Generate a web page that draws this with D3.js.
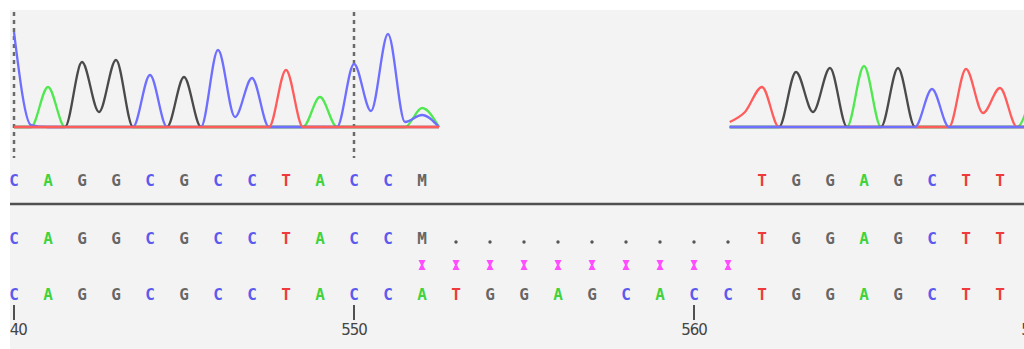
<!DOCTYPE html>
<html>
<head>
<meta charset="utf-8">
<script src="https://cdn.jsdelivr.net/npm/d3@7"></script>
<style>
  html, body { margin: 0; padding: 0; background: #ffffff; }
  svg { display: block; }
</style>
</head>
<body>
<div id="trace"></div>
<script>
// reference numbering starts here, one letter per base
const refStart = 540;
const refSeq    = ["C","A","G","G","C","G","C","C","T","A","C","C","A","T","G","G","A","G","C","A","C","C","T","G","G","A","G","C","T","T"];
const querySeq  = ["C","A","G","G","C","G","C","C","T","A","C","C","M",".",".",".",".",".",".",".",".",".","T","G","G","A","G","C","T","T"];
const calledSeq = ["C","A","G","G","C","G","C","C","T","A","C","C","M","","","","","","","","","","T","G","G","A","G","C","T","T"];
const mismatchPos = [552, 553, 554, 555, 556, 557, 558, 559, 560, 561];
const tickPos = [540, 550, 560, 570];
const gridPos = [540, 550];

// trace samples, every half base (intensity)
const seg1Pos = [540, 540.5, 541, 541.5, 542, 542.5, 543, 543.5, 544, 544.5, 545, 545.5, 546, 546.5, 547, 547.5, 548, 548.5, 549, 549.5, 550, 550.5, 551, 551.5, 552, 552.5];
const seg1A = [0, 0, 40, 0, 0, 0, 0, 0, 0, 0, 0, 0, 0, 0, 0, 0, 0, 0, 30, 0, 0, 0, 0, 0, 19, 0];
const seg1C = [95, 2, 0, 0, 0, 0, 0, 0, 52, 0, 0, 0, 77, 10, 49, 0, 0, 0, 0, 0, 63, 16, 93, 5, 12, 0];
const seg1G = [0, 0, 0, 0, 65, 15, 67, 0, 0, 0, 50, 0, 0, 0, 0, 0, 0, 0, 0, 0, 0, 0, 0, 0, 0, 0];
const seg1T = [0, 0, 0, 0, 0, 0, 0, 0, 0, 0, 0, 0, 0, 0, 0, 0, 57, 0, 0, 0, 0, 0, 0, 0, 0, 0];

const seg2Pos = [561.05, 561.5, 562, 562.5, 563, 563.5, 564, 564.5, 565, 565.5, 566, 566.5, 567, 567.5, 568, 568.5, 569, 569.5, 570];
const seg2A = [0, 0, 0, 0, 0, 0, 0, 0, 61, 0, 0, 0, 0, 0, 0, 0, 0, 0, 45];
const seg2C = [0, 0, 0, 0, 0, 0, 0, 0, 0, 0, 0, 0, 38, 0, 0, 0, 0, 0, 0];
const seg2G = [0, 0, 0, 0, 55, 15, 59, 0, 0, 0, 59, 0, 0, 0, 0, 0, 0, 0, 0];
const seg2T = [5, 15, 40, 0, 0, 0, 0, 0, 0, 0, 0, 0, 0, 0, 58, 14, 39, 0, 0];

const width = 1024;
const height = 349;
const baseY = 127;

const traceColor = { A: "#4fe84f", C: "#6e6eff", G: "#4a4a4a", T: "#ff5c5c" };
const letterColor = { A: "#3fd43f", C: "#5a5aee", G: "#666666", T: "#ee3a3a", M: "#666666" };

const svg = d3.select("#trace").append("svg")
    .attr("width", width)
    .attr("height", height);

svg.append("rect")
    .attr("x", 0).attr("y", 0)
    .attr("width", width).attr("height", height)
    .attr("fill", "#ffffff");

svg.append("defs").append("clipPath").attr("id", "panel")
    .append("rect")
    .attr("x", 10).attr("y", 10)
    .attr("width", width - 10).attr("height", height - 10);

const g = svg.append("g").attr("clip-path", "url(#panel)");

g.append("rect")
    .attr("x", 10).attr("y", 10)
    .attr("width", width - 10).attr("height", height - 10)
    .attr("fill", "#f3f3f3");

const x = d3.scaleLinear()
    .domain([refStart, refStart + 30])
    .range([14, 1034]);

const y = d3.scaleLinear()
    .domain([0, 100])
    .range([baseY, baseY - 100]);

// dotted guides every 10 bases where there is trace
g.append("g")
    .selectAll("line")
    .data(gridPos)
    .join("line")
    .attr("x1", d => x(d)).attr("x2", d => x(d))
    .attr("y1", 12).attr("y2", 158)
    .attr("stroke", "#6a6a6a")
    .attr("stroke-width", 2.5)
    .attr("stroke-dasharray", "4 4");

const line = d3.line()
    .x(d => x(d[0]))
    .y(d => y(d[1]))
    .curve(d3.curveMonotoneX);

function drawSegment(pos, channels) {
    const grp = g.append("g")
        .attr("fill", "none")
        .attr("stroke-width", 2.3)
        .attr("stroke-linejoin", "round");
    channels.forEach(([base, vals]) => {
        grp.append("path")
            .attr("stroke", traceColor[base])
            .attr("d", line(pos.map((p, i) => [p, vals[i]])));
    });
}

// draw order differs: red ends on top in the first block, blue in the second
drawSegment(seg1Pos, [["A", seg1A], ["G", seg1G], ["C", seg1C], ["T", seg1T]]);
drawSegment(seg2Pos, [["A", seg2A], ["G", seg2G], ["T", seg2T], ["C", seg2C]]);

function drawLetters(seq, yPos) {
    g.append("g")
        .selectAll("text")
        .data(seq.map((b, i) => ({ b: b, p: refStart + i })).filter(d => d.b !== "" && d.b !== "."))
        .join("text")
        .attr("x", d => x(d.p))
        .attr("y", yPos)
        .attr("text-anchor", "middle")
        .attr("dominant-baseline", "central")
        .attr("font-family", "DejaVu Sans Mono, monospace")
        .attr("font-weight", "bold")
        .attr("font-size", 16)
        .attr("fill", d => letterColor[d.b])
        .text(d => d.b);
}

drawLetters(calledSeq, 180);

g.append("line")
    .attr("x1", 10).attr("x2", width)
    .attr("y1", 204).attr("y2", 204)
    .attr("stroke", "#505050")
    .attr("stroke-width", 2.5);

drawLetters(querySeq, 238);

// gap dots in the query row
g.append("g")
    .selectAll("circle")
    .data(querySeq.map((b, i) => ({ b: b, p: refStart + i })).filter(d => d.b === "."))
    .join("circle")
    .attr("cx", d => x(d.p))
    .attr("cy", 242)
    .attr("r", 1.7)
    .attr("fill", "#555555");

// mismatch markers
g.append("g")
    .selectAll("path")
    .data(mismatchPos)
    .join("path")
    .attr("transform", d => `translate(${x(d)},265)`)
    .attr("d", "M-3.5,-5L3.5,-5L1,0L3.5,5L-3.5,5L-1,0Z")
    .attr("fill", "#ff4dff");

drawLetters(refSeq, 294);

// numbering
const ticks = g.append("g");
ticks.selectAll("line")
    .data(tickPos)
    .join("line")
    .attr("x1", d => x(d)).attr("x2", d => x(d))
    .attr("y1", 305).attr("y2", 320)
    .attr("stroke", "#505050")
    .attr("stroke-width", 2);
ticks.selectAll("text")
    .data(tickPos)
    .join("text")
    .attr("x", d => x(d))
    .attr("y", 330)
    .attr("text-anchor", "middle")
    .attr("dominant-baseline", "central")
    .attr("font-family", "DejaVu Sans, sans-serif")
    .attr("font-size", 15)
    .attr("letter-spacing", -1)
    .attr("fill", "#444444")
    .text(d => d);
</script>
</body>
</html>
